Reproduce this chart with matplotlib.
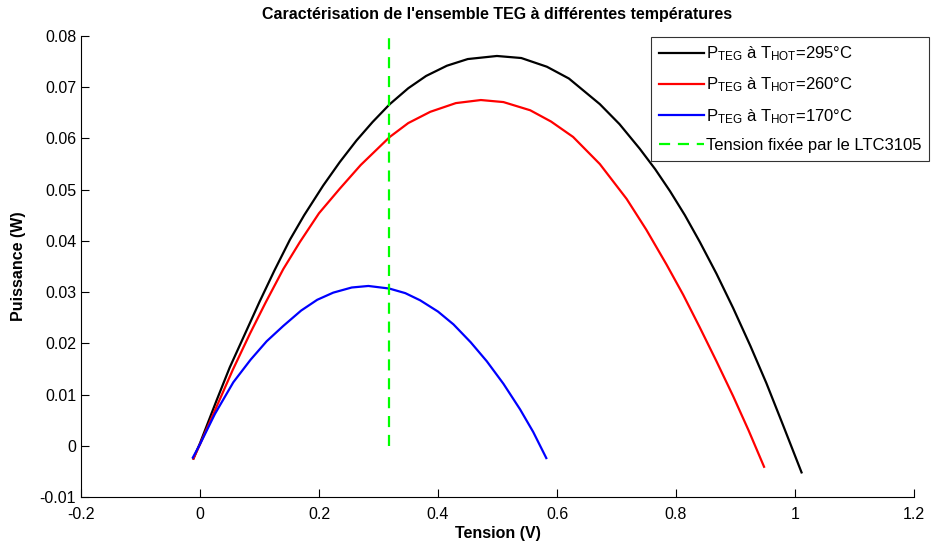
import numpy as np
import matplotlib
matplotlib.use('Agg')
import matplotlib.pyplot as plt

plt.rcParams['font.family'] = ['Liberation Sans', 'DejaVu Sans']
plt.rcParams['mathtext.fontset'] = 'custom'
plt.rcParams['mathtext.rm'] = 'Liberation Sans'
plt.rcParams['mathtext.it'] = 'Liberation Sans'

# Courbes (tension V, puissance W)
v_295 = [-0.011, 0.0, 0.028, 0.05, 0.084, 0.10, 0.125, 0.151, 0.175, 0.207, 0.235, 0.263,
         0.29, 0.319, 0.35, 0.38, 0.415, 0.45, 0.499, 0.54, 0.583, 0.62, 0.672, 0.705,
         0.739, 0.765, 0.790, 0.815, 0.840, 0.868, 0.896, 0.925, 0.952, 0.98, 1.011]
p_295 = [-0.0025, 0.0005, 0.0089, 0.0153, 0.0240, 0.0281, 0.0342, 0.0402, 0.0450, 0.0508,
         0.0554, 0.0596, 0.0632, 0.0667, 0.0698, 0.0722, 0.0742, 0.0755, 0.0761, 0.0757,
         0.0740, 0.0717, 0.0667, 0.0628, 0.0580, 0.0540, 0.0497, 0.0450, 0.0398, 0.0336,
         0.0269, 0.0195, 0.0122, 0.0040, -0.0052]

v_260 = [-0.011, 0.0, 0.03, 0.055, 0.084, 0.11, 0.140, 0.168, 0.20, 0.235, 0.27, 0.319,
         0.35, 0.387, 0.43, 0.472, 0.51, 0.555, 0.59, 0.627, 0.672, 0.717, 0.75, 0.784,
         0.812, 0.840, 0.868, 0.896, 0.922, 0.948]
p_260 = [-0.0025, 0.0003, 0.0082, 0.0148, 0.0219, 0.0279, 0.0345, 0.0398, 0.0454, 0.0502,
         0.0548, 0.0603, 0.0630, 0.0652, 0.0669, 0.0675, 0.0671, 0.0655, 0.0633, 0.0603,
         0.0550, 0.0482, 0.0422, 0.0354, 0.0295, 0.0231, 0.0165, 0.0097, 0.0030, -0.0041]

v_170 = [-0.012, 0.0, 0.025, 0.056, 0.085, 0.112, 0.140, 0.17, 0.197, 0.224, 0.255, 0.283,
         0.318, 0.345, 0.370, 0.40, 0.426, 0.455, 0.482, 0.51, 0.538, 0.560, 0.582]
p_170 = [-0.0023, 0.0003, 0.0062, 0.0124, 0.0168, 0.0204, 0.0234, 0.0264, 0.0285, 0.0299,
         0.0309, 0.0312, 0.0307, 0.0298, 0.0284, 0.0262, 0.0237, 0.0202, 0.0165, 0.0121,
         0.0071, 0.0027, -0.0024]

v_ltc = [0.318, 0.318]
p_ltc = [0.0, 0.08]

labels = [r'P$_{\mathrm{TEG}}$ à T$_{\mathrm{HOT}}$=295°C',
          r'P$_{\mathrm{TEG}}$ à T$_{\mathrm{HOT}}$=260°C',
          r'P$_{\mathrm{TEG}}$ à T$_{\mathrm{HOT}}$=170°C',
          'Tension fixée par le LTC3105']

W, H = 946, 545
fig = plt.figure(figsize=(W / 100, H / 100), dpi=100)
ax = fig.add_axes([81 / W, 1 - 497 / H, (914 - 81) / W, (497 - 36) / H])

ax.plot(v_295, p_295, color='k', lw=1.6, label=labels[0])
ax.plot(v_260, p_260, color='r', lw=1.6, label=labels[1])
ax.plot(v_170, p_170, color='b', lw=1.6, label=labels[2])
ax.plot(v_ltc, p_ltc, color=(0, 1, 0), lw=1.6, ls=(0, (5, 3.5)), label=labels[3])

ax.set_xlim(-0.2, 1.2)
ax.set_ylim(-0.01, 0.08)
ax.set_xticks(np.arange(-0.2, 1.21, 0.2))
ax.set_yticks(np.arange(-0.01, 0.081, 0.01))
ax.set_xticklabels(['-0.2', '0', '0.2', '0.4', '0.6', '0.8', '1', '1.2'])
ax.set_yticklabels(['-0.01', '0', '0.01', '0.02', '0.03', '0.04', '0.05', '0.06', '0.07', '0.08'])
ax.tick_params(direction='in', length=6, labelsize=11.5, width=0.8)
ax.tick_params(axis='x', pad=7)
ax.spines['top'].set_visible(False)
ax.spines['right'].set_visible(False)

ax.set_xlabel('Tension (V)', fontsize=11.5, fontweight='bold', labelpad=3)
ax.set_ylabel('Puissance (W)', fontsize=11.5, fontweight='bold', labelpad=10)
ax.set_title("Caractérisation de l'ensemble TEG à différentes températures",
             fontsize=11.5, fontweight='bold', pad=12)

leg = ax.legend(loc='upper left', bbox_to_anchor=(651 / W, 1 - 37 / H),
                bbox_transform=fig.transFigure, fontsize=12, frameon=True,
                fancybox=False, edgecolor='k', handlelength=2.7, handletextpad=0.15,
                borderpad=0.45, labelspacing=0.75, borderaxespad=0)
leg.get_frame().set_linewidth(0.8)

fig.savefig('out.png', dpi=100)
